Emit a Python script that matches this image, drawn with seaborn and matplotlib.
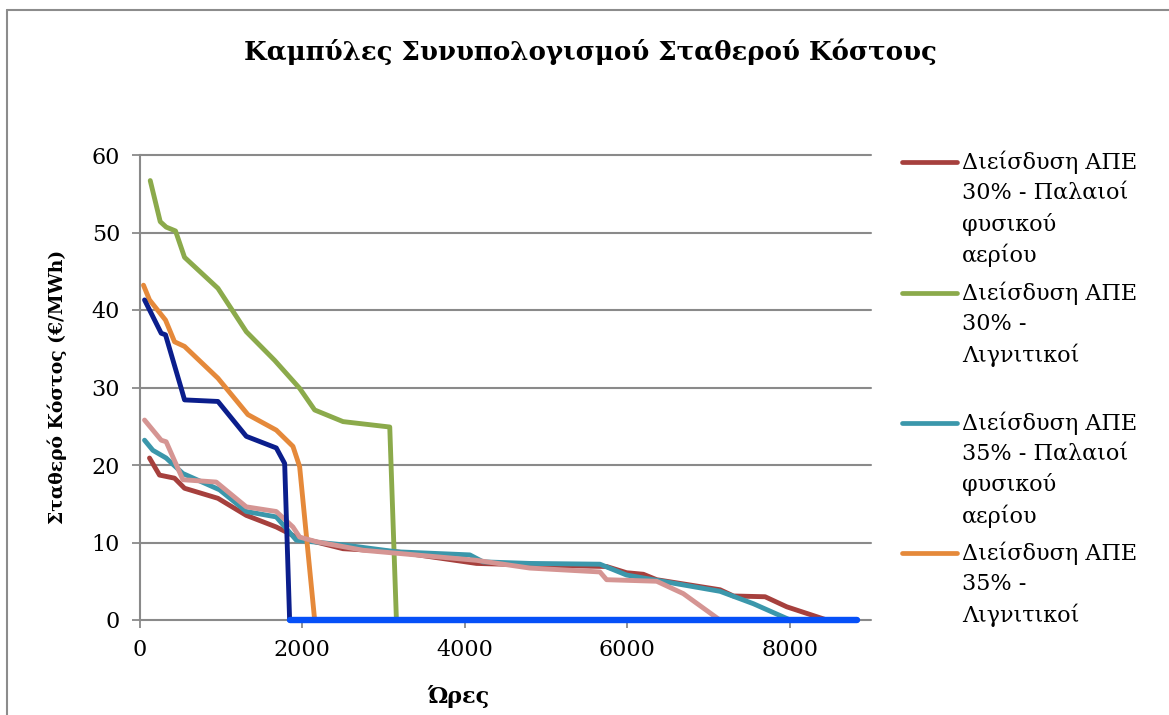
import numpy as np
import pandas as pd
import matplotlib.pyplot as plt
import seaborn as sns
from matplotlib.lines import Line2D

# Load-duration style curves
red_x = [123, 246, 431, 554, 965, 1314, 1683, 1929, 2504, 3161, 4146, 4803, 5747, 5993, 6199, 6363, 7143, 7307, 7697, 7964, 8456]
red_y = [20.9, 18.7, 18.3, 17.0, 15.7, 13.5, 12.0, 10.7, 9.2, 8.8, 7.3, 7.1, 6.9, 6.1, 5.9, 5.2, 3.9, 3.1, 3.0, 1.7, 0]

green_x = [132, 255, 328, 443, 554, 965, 1314, 1663, 1970, 2155, 2504, 3079, 3161]
green_y = [56.7, 51.4, 50.7, 50.2, 46.8, 42.8, 37.2, 33.5, 29.9, 27.1, 25.6, 24.9, 0]

teal_x = [62, 164, 328, 534, 985, 1314, 1683, 1929, 2504, 3161, 4064, 4228, 4803, 5665, 5993, 6322, 7143, 7553, 8005]
teal_y = [23.2, 21.9, 20.9, 18.9, 16.8, 14.0, 13.3, 10.3, 9.7, 8.8, 8.4, 7.5, 7.3, 7.2, 5.8, 5.2, 3.7, 2.1, 0]

orange_x = [49, 123, 320, 431, 554, 965, 1334, 1683, 1888, 1970, 2155]
orange_y = [43.2, 41.3, 38.7, 35.9, 35.3, 31.2, 26.5, 24.5, 22.4, 19.8, 0]

pink_x = [62, 267, 328, 534, 944, 1314, 1683, 1888, 1970, 2176, 2750, 4146, 4803, 5665, 5747, 6363, 6691, 7140]
pink_y = [25.8, 23.2, 23.0, 18.1, 17.8, 14.6, 14.0, 12.0, 10.7, 10.1, 9.0, 7.7, 6.7, 6.2, 5.2, 5.0, 3.4, 0]

navy_x = [62, 267, 320, 513, 554, 965, 1314, 1683, 1786, 1847, 8830]
navy_y = [41.3, 37.0, 36.8, 29.9, 28.4, 28.2, 23.7, 22.2, 20.2, 0, 0]

labels = [
    "Διείσδυση ΑΠΕ\n30% - Παλαιοί\nφυσικού\nαερίου",
    "Διείσδυση ΑΠΕ\n30% -\nΛιγνιτικοί",
    "Διείσδυση ΑΠΕ\n35% - Παλαιοί\nφυσικού\nαερίου",
    "Διείσδυση ΑΠΕ\n35% -\nΛιγνιτικοί",
    "Διείσδυση ΑΠΕ 40% - Παλαιοί φυσικού αερίου",
    "Διείσδυση ΑΠΕ 40% - Λιγνιτικοί",
]
colors = ["#A6403D", "#8BAA4B", "#3B97AB", "#E5893A", "#D59593", "#0B1E8C"]
zero_blue = "#0650F8"

series = [(red_x, red_y), (green_x, green_y), (teal_x, teal_y),
          (orange_x, orange_y), (pink_x, pink_y), (navy_x, navy_y)]
frames = []
for (xs, ys), lab in zip(series, labels):
    frames.append(pd.DataFrame({"hours": xs, "cost": ys, "series": lab}))
df = pd.concat(frames, ignore_index=True)

sns.set_theme(style="white")
plt.rcParams["font.family"] = ["DejaVu Serif"]
plt.rcParams["text.color"] = "black"

W, H = 1169, 715
fig = plt.figure(figsize=(W / 100, H / 100), dpi=100)
ax = fig.add_axes([139.5 / W, 1 - 620 / H, (871 - 139.5) / W, (620 - 155) / H])

grid_c = "#8A8A8A"
for v in range(0, 61, 10):
    ax.axhline(v, color=grid_c, lw=1.5, zorder=1)

sns.lineplot(data=df, x="hours", y="cost", hue="series", hue_order=labels,
             palette=colors, estimator=None, sort=False, lw=3.5,
             legend=False, ax=ax, zorder=3)

# flat zero tail of the 40% lignite curve is drawn in a brighter blue
tail = df[(df["series"] == labels[5]) & (df["cost"] == 0)]
sns.lineplot(data=tail, x="hours", y="cost", color=zero_blue, lw=4.6,
             estimator=None, sort=False, ax=ax, zorder=4)

# lines sitting on y=0 should not be cut in half by the axes edge
for ln in ax.lines:
    ln.set_clip_on(False)

ax.set_xlim(0, 9000)
ax.set_ylim(0, 60)
ax.set_xticks([0, 2000, 4000, 6000, 8000])
ax.set_yticks(range(0, 61, 10))
ax.tick_params(axis="both", labelsize=16, colors=grid_c, labelcolor="black",
               length=6, width=1.3, direction="out", pad=8)
ax.tick_params(axis="x", bottom=True)
ax.tick_params(axis="y", left=True)
for s in ["top", "right", "bottom"]:
    ax.spines[s].set_visible(False)
ax.spines["left"].set_color(grid_c)
ax.spines["left"].set_linewidth(1.5)
ax.set_xlabel("")
ax.set_ylabel("")

fig.text(590 / W, 1 - 52 / H, "Καμπύλες Συνυπολογισμού Σταθερού Κόστους",
         ha="center", va="center", fontsize=18.7, fontweight="bold")
fig.text(57 / W, 1 - 387 / H, "Σταθερό Κόστος (€/MWh)", rotation=90,
         ha="center", va="center", fontsize=13.5, fontweight="bold")
fig.text(458 / W, 1 - 697 / H, "Ώρες", ha="center", va="center",
         fontsize=16, fontweight="bold")

# legend (only the first four series, as in the original)
entry_y = [162, 293, 423, 553]
pitch = 31
for i in range(4):
    y0 = entry_y[i]
    fig.add_artist(Line2D([902 / W, 957 / W], [1 - y0 / H, 1 - y0 / H],
                          color=colors[i], lw=3.4, solid_capstyle="round"))
    for j, line in enumerate(labels[i].split("\n")):
        fig.text(962 / W, 1 - (y0 + j * pitch) / H, line, ha="left",
                 va="center", fontsize=16)

# chart border (cropped at right and bottom)
fig.add_artist(Line2D([7 / W, 7 / W], [0, 1 - 10 / H], color="#8C8C8C", lw=1.5))
fig.add_artist(Line2D([7 / W, 1], [1 - 10 / H, 1 - 10 / H], color="#8C8C8C", lw=1.5))

fig.savefig("out.png", dpi=100)
